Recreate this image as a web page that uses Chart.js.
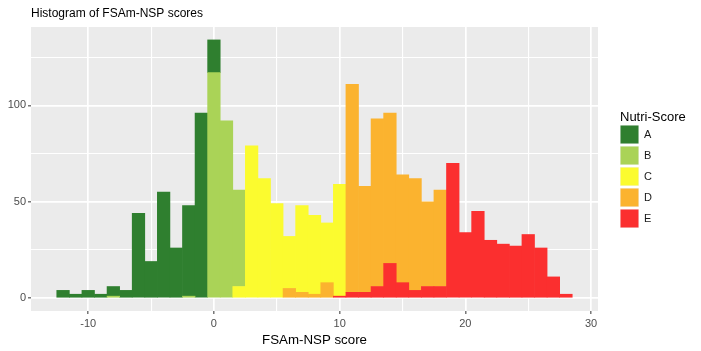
<!DOCTYPE html>
<html>
<head>
<meta charset="utf-8">
<script src="https://cdn.jsdelivr.net/npm/chart.js@4.4.1/dist/chart.umd.min.js"></script>
<style>
  body { margin: 0; background: #fff; }
  #wrap { width: 701px; height: 351px; }
</style>
</head>
<body>
<div id="wrap"><canvas id="hist" width="701" height="351"></canvas></div>
<script>
// bins of width 1, centred on each score
const scores = [-12, -11, -10, -9, -8, -7, -6, -5, -4, -3, -2, -1, 0, 1, 2, 3, 4, 5, 6, 7,
  8, 9, 10, 11, 12, 13, 14, 15, 16, 17, 18, 19, 20, 21, 22, 23, 24, 25, 26, 27, 28];

const countsA = [4, 2, 4, 2, 5, 4, 44, 19, 55, 26, 47, 96, 17, 0, 0, 0, 0, 0, 0, 0,
  0, 0, 0, 0, 0, 0, 0, 0, 0, 0, 0, 0, 0, 0, 0, 0, 0, 0, 0, 0, 0];
const countsB = [0, 0, 0, 0, 1, 0, 0, 0, 0, 0, 1, 0, 117, 92, 50, 0, 0, 0, 0, 0,
  0, 0, 0, 0, 0, 0, 0, 0, 0, 0, 0, 0, 0, 0, 0, 0, 0, 0, 0, 0, 0];
const countsC = [0, 0, 0, 0, 0, 0, 0, 0, 0, 0, 0, 0, 0, 0, 6, 79, 62, 49, 27, 45,
  41, 31, 58, 0, 0, 0, 0, 0, 0, 0, 0, 0, 0, 0, 0, 0, 0, 0, 0, 0, 0];
const countsD = [0, 0, 0, 0, 0, 0, 0, 0, 0, 0, 0, 0, 0, 0, 0, 0, 0, 0, 5, 3,
  2, 8, 0, 108, 55, 87, 78, 56, 58, 44, 50, 0, 0, 0, 0, 0, 0, 0, 0, 0, 0];
const countsE = [0, 0, 0, 0, 0, 0, 0, 0, 0, 0, 0, 0, 0, 0, 0, 0, 0, 0, 0, 0,
  0, 0, 1, 3, 3, 6, 18, 8, 4, 6, 6, 70, 34, 45, 30, 28, 27, 33, 26, 11, 2];

const grades = ["A", "B", "C", "D", "E"];
const xTicks = [-10, 0, 10, 20, 30];
const yTicks = [0, 50, 100];

const gradeColors = ["#2f7f2f", "#aad357", "#fbfb2f", "#fbb32f", "#fb2f2f"];
const allCounts = [countsA, countsB, countsC, countsD, countsE];

Chart.defaults.font.family = "'Liberation Sans', Arial, sans-serif";

// ggplot stacks first level on top, so E goes in first
const datasets = [];
for (let g = grades.length - 1; g >= 0; g--) {
  datasets.push({
    label: grades[g],
    data: scores.map((s, i) => ({ x: s, y: allCounts[g][i] })).filter((p) => p.y > 0),
    backgroundColor: gradeColors[g],
    borderWidth: 0,
    barPercentage: 1,
    categoryPercentage: 1,
  });
}

const panelBg = {
  id: "panelBg",
  beforeDraw(chart) {
    const { ctx, chartArea: a } = chart;
    ctx.save();
    ctx.fillStyle = "#fff";
    ctx.fillRect(0, 0, chart.width, chart.height);
    ctx.fillStyle = "#ebebeb";
    ctx.fillRect(a.left, a.top, a.right - a.left, a.bottom - a.top);
    ctx.restore();
  },
};

// legend drawn to the right of the panel, ggplot style
const sideLegend = {
  id: "sideLegend",
  afterDraw(chart) {
    const ctx = chart.ctx;
    const x0 = 620, y0 = 125, key = 19, step = 21;
    ctx.save();
    ctx.fillStyle = "#000";
    ctx.font = "13px 'Liberation Sans', Arial, sans-serif";
    ctx.textBaseline = "alphabetic";
    ctx.fillText("Nutri-Score", x0, 121);
    ctx.font = "11px 'Liberation Sans', Arial, sans-serif";
    ctx.textBaseline = "middle";
    grades.forEach((g, i) => {
      const y = y0 + i * step;
      ctx.fillStyle = "#f2f2f2";
      ctx.fillRect(x0, y, key, key);
      ctx.fillStyle = gradeColors[i];
      ctx.fillRect(x0 + 0.5, y + 0.5, key - 1, key - 1);
      ctx.fillStyle = "#1a1a1a";
      ctx.fillText(g, x0 + 24, y + key / 2 + 0.5);
    });
    ctx.restore();
  },
};

const isMajorX = (v) => xTicks.includes(v);
const isMajorY = (v) => yTicks.includes(v);

new Chart(document.getElementById("hist"), {
  type: "bar",
  data: { datasets: datasets },
  plugins: [panelBg, sideLegend],
  options: {
    responsive: false,
    animation: false,
    devicePixelRatio: 1,
    layout: { padding: { left: 0, right: 103, top: 0, bottom: 0 } },
    plugins: {
      legend: { display: false },
      tooltip: { enabled: false },
      title: {
        display: true,
        text: "Histogram of FSAm-NSP scores",
        align: "start",
        fullSize: false,
        color: "#000",
        font: { size: 12, weight: "normal" },
        padding: { top: 6, bottom: 6.6 },
      },
    },
    scales: {
      x: {
        type: "linear",
        stacked: true,
        offset: false,
        min: -14.55,
        max: 30.55,
        afterFit: (s) => { s.height = 40; },
        border: { display: false },
        grid: {
          offset: false,
          color: "#fff",
          lineWidth: (c) => (c.tick && isMajorX(c.tick.value) ? 1.7 : 1.1),
          drawTicks: true,
          tickLength: 3,
          tickWidth: 1,
          tickColor: (c) => (c.tick && isMajorX(c.tick.value) ? "#333" : "rgba(0,0,0,0)"),
        },
        ticks: {
          stepSize: 5,
          includeBounds: false,
          autoSkip: false,
          maxRotation: 0,
          padding: 3,
          color: "#4d4d4d",
          font: { size: 11 },
          callback: (v) => (isMajorX(v) ? v : ""),
        },
        title: {
          display: true,
          text: "FSAm-NSP score",
          color: "#000",
          font: { size: 13.3 },
          padding: { top: 0, bottom: 3 },
        },
      },
      y: {
        stacked: true,
        min: -6.7,
        max: 140.7,
        afterFit: (s) => { s.width = 31; },
        border: { display: false },
        grid: {
          color: "#fff",
          lineWidth: (c) => (c.tick && isMajorY(c.tick.value) ? 1.7 : 1.1),
          drawTicks: true,
          tickLength: 3,
          tickWidth: 1,
          tickColor: (c) => (c.tick && isMajorY(c.tick.value) ? "#333" : "rgba(0,0,0,0)"),
        },
        ticks: {
          stepSize: 25,
          includeBounds: false,
          padding: 2,
          color: "#4d4d4d",
          font: { size: 11 },
          callback: (v) => (isMajorY(v) ? v : ""),
        },
      },
    },
  },
});
</script>
</body>
</html>
